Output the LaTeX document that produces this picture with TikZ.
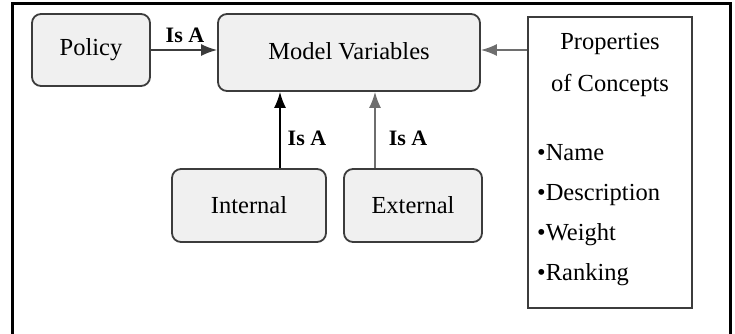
\documentclass[tikz,border=0pt]{standalone}
\usepackage{fontspec}
\setmainfont{Liberation Serif}
\usetikzlibrary{arrows.meta,positioning}

\definecolor{boxfill}{HTML}{F0F0F0}
\definecolor{boxline}{HTML}{3C3C3C}
\definecolor{arrowgray}{HTML}{6E6E6E}

\begin{document}
\begin{tikzpicture}[x=1pt,y=-1pt]
    \tikzset{
        box/.style={draw=boxline, fill=boxfill, line width=1.8pt, rounded corners=9pt, inner sep=0pt, font=\fontsize{24.5}{28}\selectfont},
        plainbox/.style={draw=boxline, line width=1.5pt, inner sep=0pt},
        edge/.style={->, >={Latex[length=16pt,width=12pt]}, line width=1.6pt},
        isa/.style={font=\bfseries\fontsize{22}{24}\selectfont, inner sep=0pt}
    }
    \useasboundingbox (0,0) rectangle (735,333);
    % frame
    \draw[line width=3pt] (12,340) -- (12,3) -- (730,3) -- (730,340);

    % boxes
    \node[box, minimum width=118pt, minimum height=72pt] (policy) at (91,50) {Policy};
    \node[box, minimum width=262pt, minimum height=77pt] (model) at (349,52.5) {\raisebox{4pt}{Model Variables}};
    \node[box, minimum width=154pt, minimum height=73pt] (internal) at (249,205.5) {Internal};
    \node[box, minimum width=138pt, minimum height=73pt] (external) at (413,205.5) {External};
    \node[plainbox, minimum width=164pt, minimum height=291pt] (props) at (610,162.5) {};
    \node[font=\fontsize{24.5}{42}\selectfont, align=center] (propsTitle) at (610,65) {Properties\\of Concepts};
    \node[font=\fontsize{24.5}{40}\selectfont, align=left, anchor=west, inner sep=0pt] (propsList) at (537,215)
        {\textbullet Name\\\textbullet Description\\\textbullet Weight\\\textbullet Ranking};

    % edges
    \draw[edge, draw=boxline] (policy.east) -- (policy.east -| model.west);
    \draw[edge, draw=arrowgray] (props.west |- policy.east) -- (model.east |- policy.east);
    \draw[edge, draw=black] ([xshift=31pt]internal.north) -- ([xshift=31pt]internal.north |- model.south);
    \draw[edge, draw=arrowgray] ([xshift=-38pt]external.north) -- ([xshift=-38pt]external.north |- model.south);

    % labels
    \node[isa] (isaPolicy) at (185,35) {Is A};
    \node[isa] (isaInternal) at (307,138) {Is A};
    \node[isa] (isaExternal) at (408,138) {Is A};
\end{tikzpicture}
\end{document}
